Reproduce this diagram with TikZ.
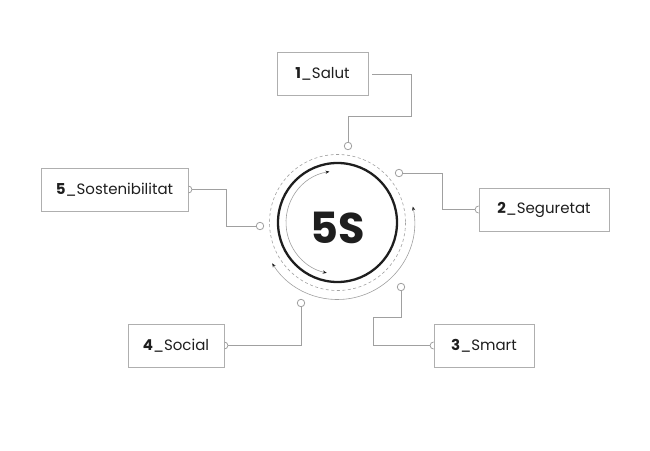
\documentclass[tikz,border=0pt]{standalone}
\usepackage{fontspec}
\setmainfont{Poppins}
\usepackage{tikz}
\usetikzlibrary{arrows.meta}

\definecolor{wiregray}{RGB}{160,160,160}
\definecolor{boxgray}{RGB}{175,175,175}
\definecolor{inkdark}{RGB}{30,30,30}

\begin{document}
\begin{tikzpicture}[%
            x=1pt,
            y=-1pt,
            labelbox/.style={
                draw=boxgray,
                line width=0.8pt,
                minimum height=43pt,
                inner sep=0pt,
                text=inkdark,
                font=\fontsize{15}{17}\selectfont,
            },
            dot/.style={
                circle,
                draw=wiregray,
                fill=white,
                line width=0.8pt,
                minimum size=7.5pt,
                inner sep=0pt,
            },
            wire/.style={
                draw=wiregray,
                line width=0.8pt,
            },
            cycle/.style={
                draw=wiregray,
                line width=0.6pt,
                {Stealth[length=4pt,width=3.2pt,color=inkdark]}-{Stealth[length=4pt,width=3.2pt,color=inkdark]},
            },
        ]
        \useasboundingbox (0,0) rectangle (650,450);

        \node[circle, draw=inkdark, line width=2.3pt, minimum size=119pt, inner sep=0pt] (core) at (337.5,222.5) {};
        \node[text=inkdark, font=\fontsize{43}{43}\selectfont\bfseries] (title) at (338,227.5) {5S};
        \draw[wiregray, line width=0.6pt, dash pattern=on 3pt off 2.5pt] (core.center) circle[radius=68];
        \draw[cycle] (core.center) ++(-99:51.5) arc[start angle=-99, end angle=-258, radius=51.5];
        \draw[cycle] (core.center) ++(-12:77) arc[start angle=-12, end angle=148, radius=77];

        \node[labelbox, minimum width=91pt] (salut) at (322.5,74) {\textbf{1}\_Salut};
        \node[labelbox, minimum width=130pt] (seguretat) at (544,209.5) {\textbf{2}\_Seguretat};
        \node[labelbox, minimum width=100pt] (smart) at (484,345.5) {\textbf{3}\_Smart};
        \node[labelbox, minimum width=96pt] (social) at (176,345.5) {\textbf{4}\_Social};
        \node[labelbox, minimum width=147pt] (sostenibilitat) at (114.5,189.5) {\textbf{5}\_Sostenibilitat};

        \node[dot] (d1) at (348,146) {};
        \node[dot] (d2) at (399,173) {};
        \node[dot] (d3) at (401,287) {};
        \node[dot] (d4) at (301,303) {};
        \node[dot] (d5) at (260,226) {};

        \draw[wire] ([xshift=4pt]salut.east) -- ++(39,0) -- ++(0,42) -| (d1);
        \draw[wire] (d2) -- ++(43,0) |- ([xshift=-3.5pt]seguretat.west);
        \draw[wire] (d3) -- ++(0,30) -- ++(-28,0) |- ([xshift=-3.5pt]smart.west);
        \draw[wire] ([xshift=3.5pt]social.east) -| (d4);
        \draw[wire] ([xshift=3.5pt]sostenibilitat.east) -- ++(34,0) |- (d5);

        \draw[wire] (seguretat.west) ++(0,-3.5) arc[start angle=-90, end angle=-270, radius=3.5];
        \draw[wire] (smart.west) ++(0,-3.5) arc[start angle=-90, end angle=-270, radius=3.5];
        \draw[wire] (social.east) ++(0,-3.5) arc[start angle=-90, end angle=90, radius=3.5];
        \draw[wire] (sostenibilitat.east) ++(0,-3.5) arc[start angle=-90, end angle=90, radius=3.5];
    \end{tikzpicture}
\end{document}
